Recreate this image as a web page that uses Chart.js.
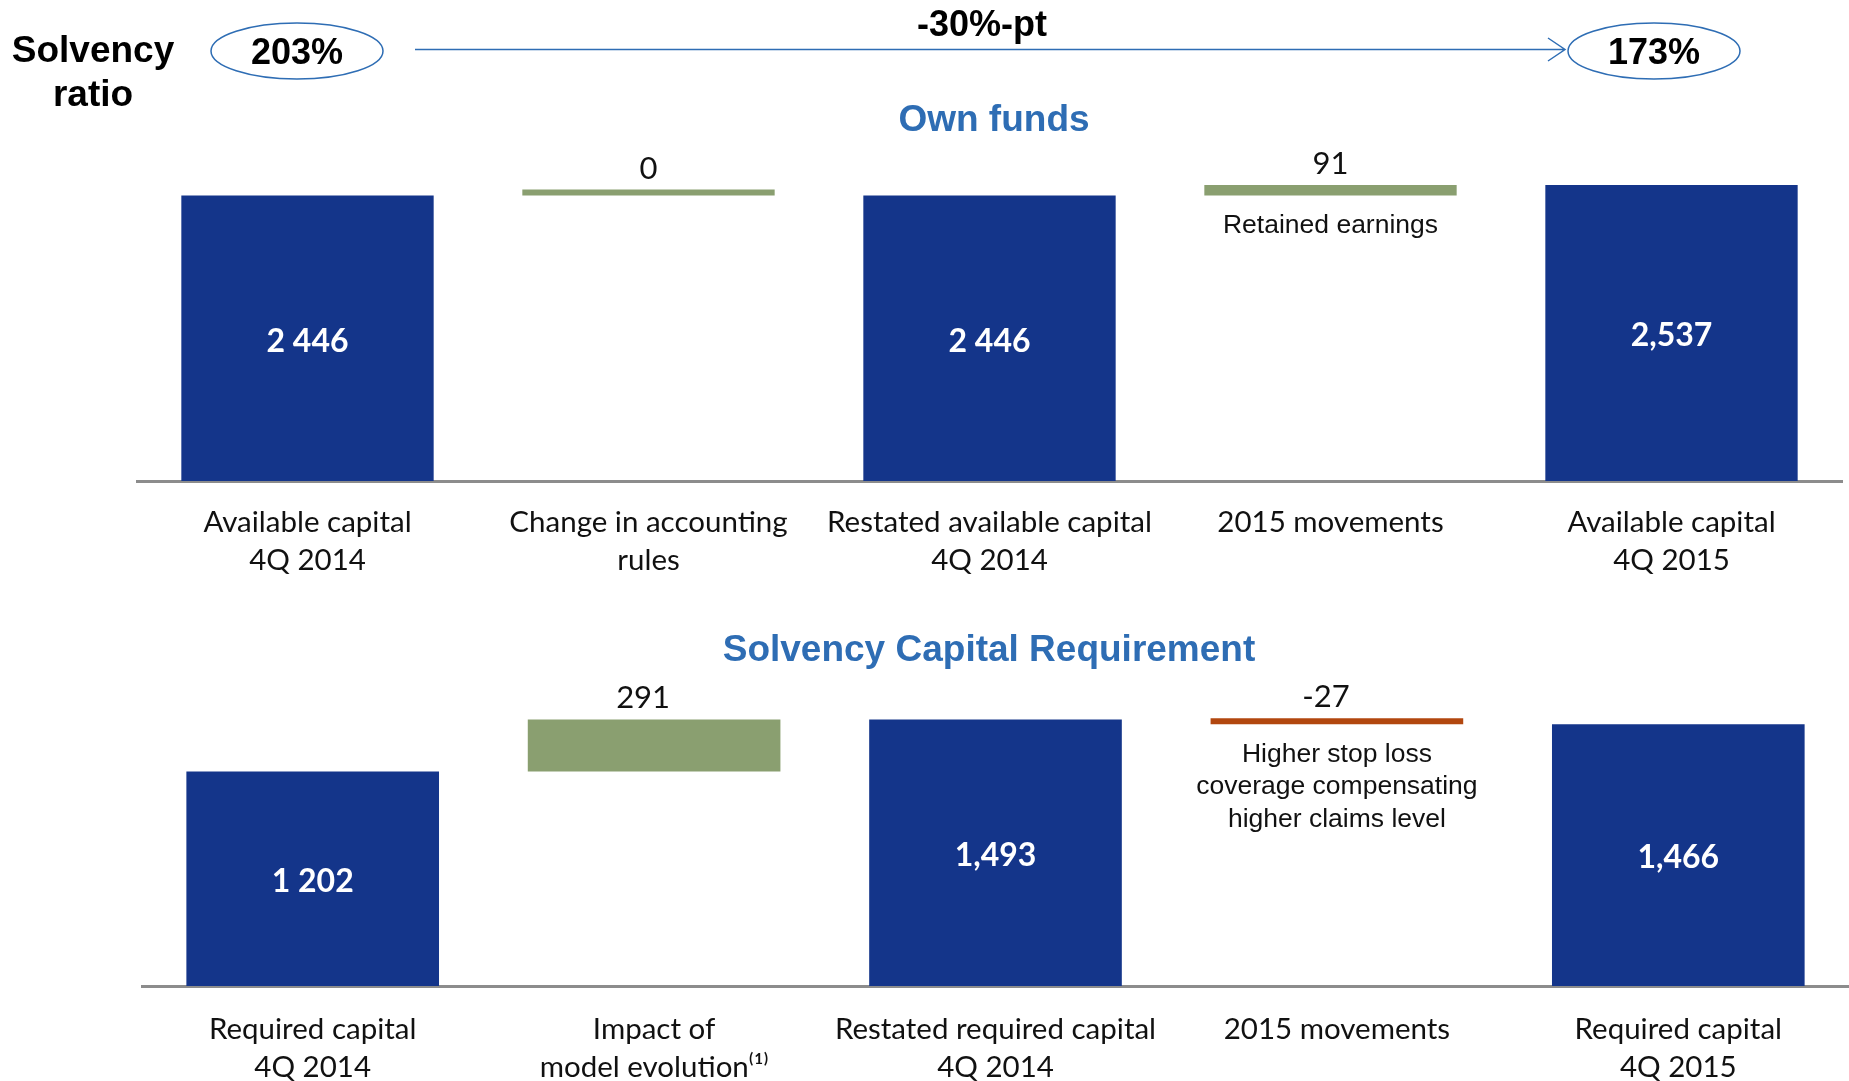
<!DOCTYPE html>
<html>
<head>
<meta charset="utf-8">
<script src="https://cdn.jsdelivr.net/npm/chart.js@4.4.1/dist/chart.umd.min.js"></script>
<style>
  body { margin: 0; background: #ffffff; width: 1849px; height: 1081px; overflow: hidden; }
  #top-window { position: absolute; left: 0; top: 0; width: 1849px; height: 590px; }
  #bottom-window { position: absolute; left: 0; top: 590px; width: 1849px; height: 491px; }
</style>
</head>
<body>
<div id="top-window"><canvas id="funds"></canvas></div>
<div id="bottom-window"><canvas id="scr"></canvas></div>
<script>
// solvency ratio header
const ratioStart = '203%'
const ratioEnd = '173%'
const ratioDelta = '-30%-pt'

// own funds
const fundLabels = [['Available capital', '4Q 2014'], ['Change in accounting', 'rules'], ['Restated available capital', '4Q 2014'], '2015 movements', ['Available capital', '4Q 2015']]
const fundValues = [2446, 0, 2446, 91, 2537]
const fundKinds = ['total', 'delta', 'total', 'delta', 'total']
const fundText = ['2 446', '0', '2 446', '91', '2,537']
const fundNotes = [[], [], [], ['Retained earnings'], []]

// solvency capital requirement
const scrLabels = [['Required capital', '4Q 2014'], ['Impact of', 'model evolution⁽¹⁾'], ['Restated required capital', '4Q 2014'], '2015 movements', ['Required capital', '4Q 2015']]
const scrValues = [1202, 291, 1493, -27, 1466]
const scrKinds = ['total', 'delta', 'total', 'delta', 'total']
const scrText = ['1 202', '291', '1,493', '-27', '1,466']
const scrNotes = [[], [], [], ['Higher stop loss', 'coverage compensating', 'higher claims level'], []]

const blue = '#14358A'
const green = '#8A9F70'
const red = '#B2470F'
const titleBlue = '#2E6DB4'

function makeRanges(values, kinds) {
  let run = 0
  let out = []
  for (let i = 0; i < values.length; i++) {
    if (kinds[i] == 'total') {
      out.push([0, values[i]])
      run = values[i]
    } else {
      out.push([run, run + values[i]])
      run = run + values[i]
    }
  }
  return out
}

function makeColors(values, kinds) {
  return values.map((v, i) => kinds[i] == 'total' ? blue : (v < 0 ? red : green))
}

const textInfo = {
  funds: { text: fundText, kinds: fundKinds, notes: fundNotes, shift: 0 },
  scr: { text: scrText, kinds: scrKinds, notes: scrNotes, shift: -11 }
}

const barText = {
  id: 'barText',
  afterDatasetsDraw(chart) {
    const info = textInfo[chart.canvas.id]
    const ctx = chart.ctx
    const meta = chart.getDatasetMeta(0)
    ctx.save()
    ctx.textAlign = 'center'
    ctx.textBaseline = 'middle'
    meta.data.forEach((bar, i) => {
      const top = Math.min(bar.y, bar.base)
      const bottom = Math.max(bar.y, bar.base)
      if (info.kinds[i] == 'total') {
        ctx.fillStyle = '#ffffff'
        ctx.font = 'bold 32px Lato'
        ctx.fillText(info.text[i], bar.x, (top + bottom) / 2 + 3)
      } else {
        ctx.fillStyle = '#111111'
        ctx.font = '31px Lato'
        ctx.fillText(info.text[i], bar.x + info.shift, top - 21)
        ctx.font = '26.5px "Liberation Sans"'
        info.notes[i].forEach((line, k) => {
          ctx.fillText(line, bar.x, bottom + 30 + k * 32.5)
        })
      }
    })
    ctx.restore()
  }
}

function drawEllipse(ctx, x, y, text) {
  ctx.beginPath()
  ctx.ellipse(x, y, 86, 28, 0, 0, Math.PI * 2)
  ctx.strokeStyle = titleBlue
  ctx.lineWidth = 1.5
  ctx.stroke()
  ctx.fillStyle = '#000000'
  ctx.font = 'bold 36px "Liberation Sans"'
  ctx.fillText(text, x, y + 3)
}

const header = {
  id: 'header',
  afterDraw(chart) {
    const ctx = chart.ctx
    ctx.save()
    ctx.textAlign = 'center'
    ctx.textBaseline = 'middle'
    if (chart.canvas.id == 'funds') {
      ctx.fillStyle = '#000000'
      ctx.font = 'bold 37px "Liberation Sans"'
      ctx.fillText('Solvency', 93, 52)
      ctx.fillText('ratio', 93, 96)
      drawEllipse(ctx, 297, 51, ratioStart)
      drawEllipse(ctx, 1654, 51, ratioEnd)
      ctx.beginPath()
      ctx.moveTo(415, 49.5)
      ctx.lineTo(1565, 49.5)
      ctx.moveTo(1548, 38)
      ctx.lineTo(1565, 49.5)
      ctx.lineTo(1548, 61)
      ctx.strokeStyle = titleBlue
      ctx.lineWidth = 1.5
      ctx.stroke()
      ctx.fillStyle = '#000000'
      ctx.font = 'bold 36px "Liberation Sans"'
      ctx.fillText(ratioDelta, 982, 26)
      ctx.fillStyle = titleBlue
      ctx.font = 'bold 37px "Liberation Sans"'
      ctx.fillText('Own funds', 994, 121)
    } else {
      ctx.fillStyle = titleBlue
      ctx.font = 'bold 37px "Liberation Sans"'
      ctx.fillText('Solvency Capital Requirement', 989, 61)
    }
    ctx.restore()
  }
}

function makeChart(id, labels, values, kinds, yMax, pad, xHeight, tickPad) {
  return new Chart(document.getElementById(id), {
    type: 'bar',
    data: {
      labels: labels,
      datasets: [
        {
          data: makeRanges(values, kinds),
          backgroundColor: makeColors(values, kinds),
          barPercentage: 0.74,
          categoryPercentage: 1,
          minBarLength: 6
        }
      ]
    },
    options: {
      responsive: true,
      maintainAspectRatio: false,
      animation: false,
      layout: { padding: pad },
      plugins: {
        legend: { display: false },
        tooltip: { enabled: false }
      },
      scales: {
        x: {
          grid: { display: false, drawTicks: false },
          border: { display: true, color: '#8C8C8C', width: 3 },
          ticks: {
            color: '#111111',
            font: { family: 'Lato', size: 29.5, lineHeight: 1.28 },
            padding: tickPad,
            maxRotation: 0,
            autoSkip: false
          },
          afterFit: (s) => { s.height = xHeight }
        },
        y: {
          display: false,
          min: 0,
          max: yMax
        }
      }
    },
    plugins: [barText, header]
  })
}

makeChart('funds', fundLabels, fundValues, fundKinds, 2922, { left: 137, right: 7, top: 140, bottom: 0 }, 109, 23)
makeChart('scr', scrLabels, scrValues, scrKinds, 1742, { left: 142, right: 0, top: 85, bottom: 0 }, 95, 25)
</script>
</body>
</html>
